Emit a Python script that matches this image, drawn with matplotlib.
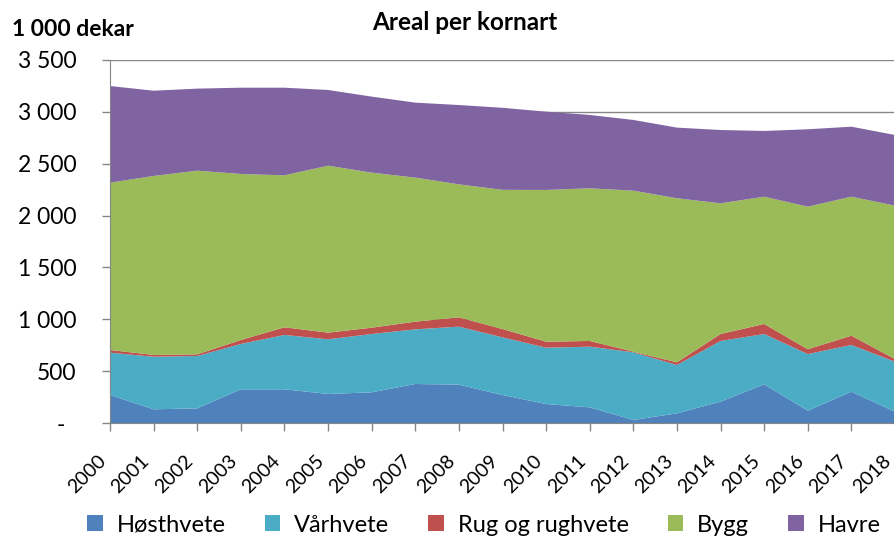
import matplotlib

matplotlib.use("Agg")
import matplotlib.pyplot as plt
from matplotlib.patches import Patch
from matplotlib.ticker import FuncFormatter
import numpy as np

plt.rcParams["font.family"] = ["Lato", "DejaVu Sans"]

# Areal per kornart, 1 000 dekar
years = list(range(2000, 2019))
series_names = ["Høsthvete", "Vårhvete", "Rug og rughvete", "Bygg", "Havre"]
hosthvete = [270, 132, 141, 325, 325, 280, 296, 376, 370, 270,
             183, 151, 29, 93, 206, 373, 119, 302, 109]
varhvete = [408, 507, 505, 437, 524, 527, 562, 527, 559, 556,
            543, 585, 653, 466, 585, 485, 546, 450, 482]
rug = [26, 17, 16, 38, 74, 64, 61, 74, 90, 80,
       58, 55, 6, 26, 67, 97, 46, 90, 26]
bygg = [1613, 1726, 1771, 1601, 1465, 1610, 1495, 1389, 1282, 1342,
        1463, 1472, 1552, 1582, 1260, 1227, 1375, 1340, 1479]
havre = [932, 822, 791, 832, 845, 730, 733, 723, 765, 791,
         755, 707, 682, 681, 707, 634, 746, 675, 681]
colors = ["#4F81BD", "#4BACC6", "#C0504D", "#9BBB59", "#8064A2"]

GRID = "#868686"

fig = plt.figure(figsize=(8.95, 5.37), dpi=100)
ax = fig.add_axes([110 / 895, 114 / 537, 785 / 895, 363 / 537])

ax.stackplot(years, hosthvete, varhvete, rug, bygg, havre,
             colors=colors, linewidth=0, zorder=2)

ax.set_xlim(2000, 2018)
ax.set_ylim(0, 3500)
ax.set_yticks(np.arange(0, 3501, 500))
ax.yaxis.set_major_formatter(
    FuncFormatter(lambda v, p: "-  " if v == 0 else f"{int(v):,}".replace(",", " "))
)
ax.set_xticks(years)
ax.set_xticklabels([])
# year labels drawn by hand so the last one can sit just inside the right edge
for yr in years:
    ax.annotate(str(yr), xy=(yr, 0), xycoords=("data", "axes fraction"),
                xytext=(-5, -25.5), textcoords="offset points", rotation=45,
                ha="right", va="center", rotation_mode="anchor", fontsize=14,
                annotation_clip=False)

ax.grid(axis="y", color=GRID, lw=1.0, zorder=1)
ax.set_axisbelow(True)
for side in ["top", "right"]:
    ax.spines[side].set_visible(False)
ax.spines["left"].set_color(GRID)
ax.spines["bottom"].set_color(GRID)
ax.tick_params(axis="both", colors=GRID, length=6, width=1.0, labelcolor="black")
ax.tick_params(axis="y", pad=18, labelsize=16.5)

fig.text(465 / 895, 1 - 23 / 537, "Areal per kornart", ha="center", va="center",
         fontsize=17.5, fontweight="bold")
fig.text(12 / 895, 1 - 30 / 537, "1 000 dekar", ha="left", va="center",
         fontsize=16.5, fontweight="bold")

handles = [Patch(facecolor=c, edgecolor="none") for c in colors]
fig.legend(handles, series_names, loc="center", bbox_to_anchor=(484 / 895, 1 - 525 / 537),
           ncol=5, frameon=False, fontsize=17, handlelength=0.65, handleheight=0.65,
           handletextpad=0.6, columnspacing=1.65, borderpad=0, borderaxespad=0)

fig.savefig("out.png", dpi=100)
